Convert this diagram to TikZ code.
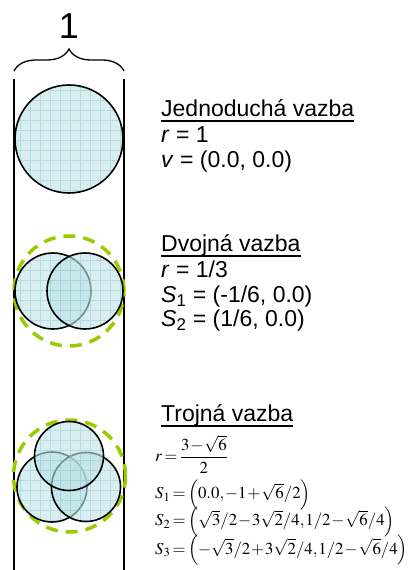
\documentclass[tikz,border=0pt]{standalone}
\usepackage{amsmath}
\usepackage{mathptmx}
\usepackage[no-math]{fontspec}
\setmainfont{Liberation Sans}
\usetikzlibrary{decorations.pathreplacing}

\definecolor{bondfill}{RGB}{190,226,231}
\definecolor{bondgrid}{RGB}{140,200,206}
\definecolor{hullgreen}{RGB}{153,204,0}
\newsavebox{\ulinebox}
\newcommand{\uline}[1]{\sbox{\ulinebox}{#1}\rlap{\rule[-4.8pt]{\wd\ulinebox}{1.4pt}}\usebox{\ulinebox}}
\newcommand{\tightmath}{\medmuskip=1mu\relax\thickmuskip=2.5mu\relax\thinmuskip=1mu\relax}

\begin{document}
\begin{tikzpicture}[x=1pt, y=1pt,
    caption/.style={anchor=base west, inner sep=0pt, font=\fontsize{23}{27}\selectfont},
    formula/.style={anchor=base west, inner sep=0pt, font=\fontsize{16.8}{20}\selectfont},
    hull/.style={hullgreen, line width=3.5pt, dash pattern=on 12pt off 8pt},
    rim/.style={line width=1.6pt}]
    \useasboundingbox (0,0) rectangle (410,570);

    % Width rails and brace
    \draw[line width=1.3pt] (14,491) -- (14,0);
    \draw[line width=1.3pt] (124,491) -- (124,0);
    \coordinate (braceL) at (14,499);
    \coordinate (braceR) at (124,499);
    \draw[line width=1.3pt, decorate, decoration={brace, amplitude=22pt}] (braceL) -- (braceR);
    \node[font=\fontsize{36}{40}\selectfont, inner sep=0pt] (width) at (69,544) {1};

    % Hulls of the double and triple bond
    \draw[hull] (69,279) circle (55);
    \draw[hull] (69.5,94) circle (56);

    % Atoms (x, y, radius), drawn in order
    \foreach \x/\y/\r in {69/431/54, 53/279/38, 85/279/38, 52/83/35, 86/83/34.5, 69/114/34.5}{
        \begin{scope}
            \clip (\x,\y) circle (\r);
            \fill[bondfill, fill opacity=0.6] (\x,\y) circle (\r);
            \draw[bondgrid, draw opacity=0.45, line width=0.5pt, step=10pt] (\x-\r,\y-\r) grid (\x+\r,\y+\r);
        \end{scope}
        \draw[rim] (\x,\y) circle (\r);
    }

    % Single bond
    \node[caption] (single) at (161,453) {\uline{Jednoduchá vazba}};
    \node[caption] (singleR) at (161,427) {\textit{r} = 1};
    \node[caption] (singleV) at (161,402) {\textit{v} = (0.0, 0.0)};

    % Double bond
    \node[caption] (double) at (161,318) {\uline{Dvojná vazba}};
    \node[caption] (doubleR) at (161,292) {\textit{r} = 1/3};
    \node[caption] (doubleS1) at (161,267) {\textit{S}\textsubscript{1} = (-1/6, 0.0)};
    \node[caption] (doubleS2) at (161,243) {\textit{S}\textsubscript{2} = (1/6, 0.0)};

    % Triple bond
    \node[caption] (triple) at (161,148) {\uline{Trojná vazba}};
    \node[formula] (tripleR) at (155,108) {$\tightmath r=\dfrac{3-\sqrt{6}}{2}$};
    \node[formula] (tripleS1) at (155,71) {$\tightmath S_1=\left(0.0,-1+\sqrt{6}/2\right)$};
    \node[formula] (tripleS2) at (155,44) {$\tightmath S_2=\left(\sqrt{3}/2-3\sqrt{2}/4,1/2-\sqrt{6}/4\right)$};
    \node[formula] (tripleS3) at (155,16) {$\tightmath S_3=\left(-\sqrt{3}/2+3\sqrt{2}/4,1/2-\sqrt{6}/4\right)$};
\end{tikzpicture}
\end{document}
